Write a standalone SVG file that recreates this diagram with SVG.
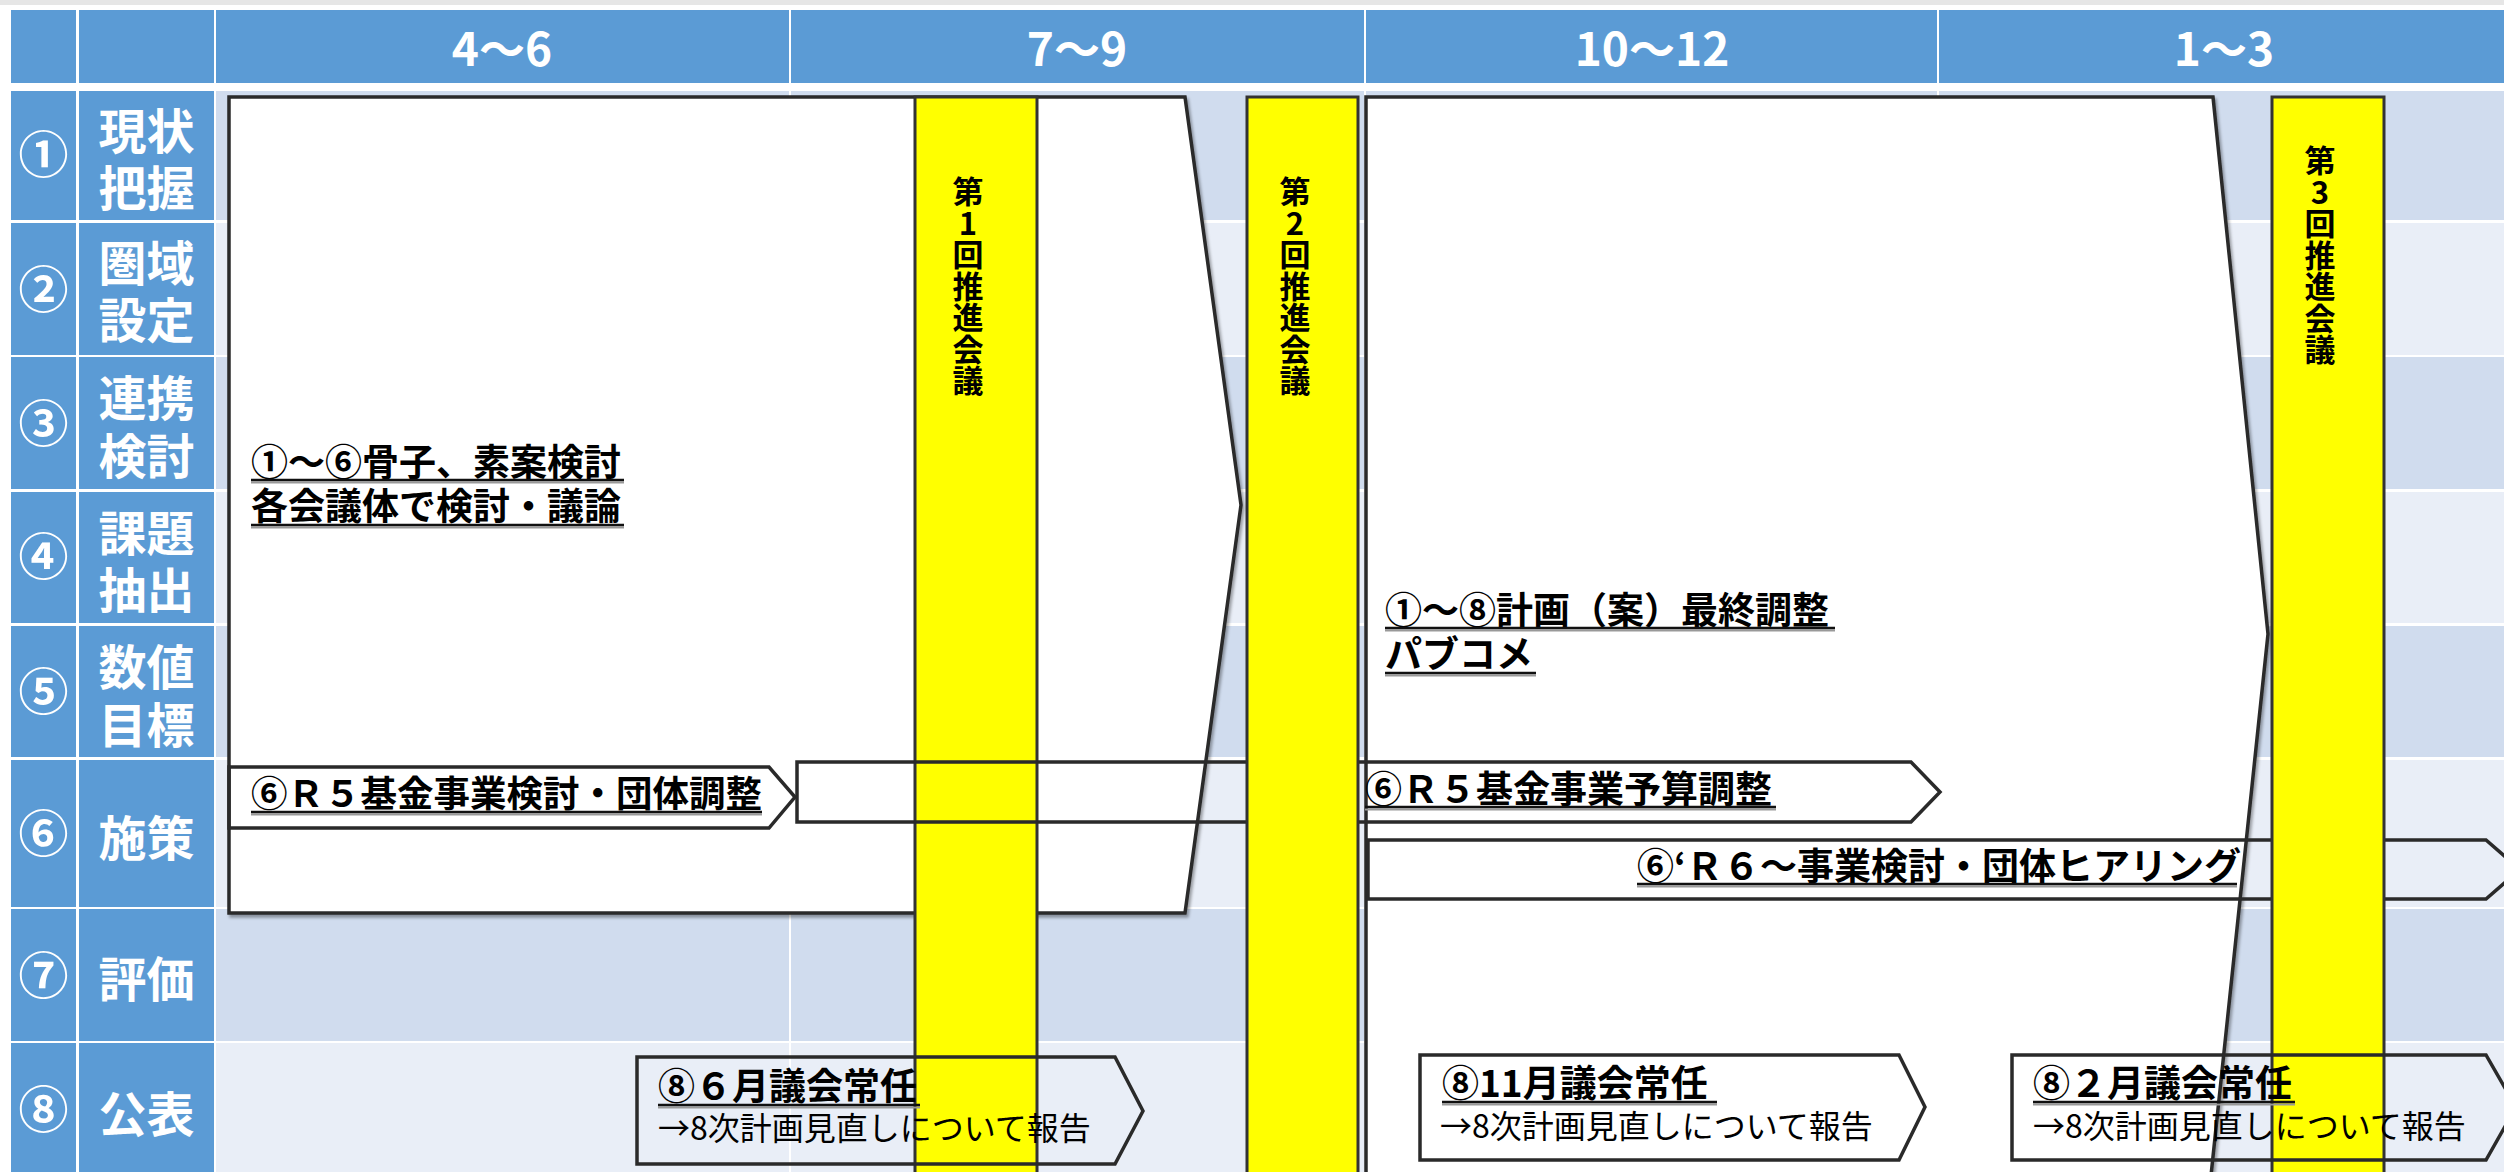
<svg xmlns="http://www.w3.org/2000/svg" width="2504" height="1172" viewBox="0 0 2504 1172">
<defs>
<filter id="sh" x="-5%" y="-5%" width="110%" height="110%">
<feDropShadow dx="2" dy="3" stdDeviation="1.5" flood-color="#000" flood-opacity="0.35"/>
</filter>
<style>
text{font-family:'Noto Sans CJK JP','Noto Sans',sans-serif}
.hd{fill:#5B9BD5}
.hdt{fill:#fff;font-weight:bold;font-size:46px;text-anchor:middle}
.lb{fill:#fff;font-weight:bold;font-size:48px;text-anchor:middle}
.cn{fill:#fff;font-weight:bold;font-size:50px;text-anchor:middle}
.rd{fill:#D0DCEE}
.rl{fill:#E9EEF7}
.sp{fill:none;stroke:#2a2a2a;stroke-width:3.5;stroke-linejoin:miter}
.big{fill:#fff;stroke:#2a2a2a;stroke-width:3.5}
.bar{fill:#FFFF00;stroke:#333;stroke-width:3}
.bt{fill:#000;font-weight:bold;font-size:31px;writing-mode:vertical-rl;text-orientation:upright;letter-spacing:0.5px}
.t{fill:#000;font-weight:bold;font-size:37px}
.t2{font-weight:normal;font-size:32px}
.ul{stroke:#111;stroke-width:2.5}
.us{stroke:#999;stroke-width:2}
</style>
</defs>
<rect x="0" y="0" width="2504" height="1172" fill="#fff"/>
<rect x="0" y="0" width="2504" height="5" fill="#e6e6e6"/>
<g id="header">
<rect class="hd" x="11" y="10" width="65" height="73"/>
<rect class="hd" x="79" y="10" width="135" height="73"/>
<rect class="hd" x="216" y="10" width="573" height="73"/>
<rect class="hd" x="791" y="10" width="573" height="73"/>
<rect class="hd" x="1366" y="10" width="571" height="73"/>
<rect class="hd" x="1939" y="10" width="565" height="73"/>
<text class="hdt" x="502" y="66">4～6</text>
<text class="hdt" x="1077" y="66">7～9</text>
<text class="hdt" x="1652" y="66">10～12</text>
<text class="hdt" x="2224" y="66">1～3</text>
</g>
<g id="rows">
<rect class="hd" x="11" y="91" width="65" height="129"/><rect class="hd" x="79" y="91" width="135" height="129"/>
<rect class="hd" x="11" y="223" width="65" height="132"/><rect class="hd" x="79" y="223" width="135" height="132"/>
<rect class="hd" x="11" y="357" width="65" height="132"/><rect class="hd" x="79" y="357" width="135" height="132"/>
<rect class="hd" x="11" y="492" width="65" height="131"/><rect class="hd" x="79" y="492" width="135" height="131"/>
<rect class="hd" x="11" y="626" width="65" height="131"/><rect class="hd" x="79" y="626" width="135" height="131"/>
<rect class="hd" x="11" y="760" width="65" height="147"/><rect class="hd" x="79" y="760" width="135" height="147"/>
<rect class="hd" x="11" y="909" width="65" height="132"/><rect class="hd" x="79" y="909" width="135" height="132"/>
<rect class="hd" x="11" y="1043" width="65" height="129"/><rect class="hd" x="79" y="1043" width="135" height="129"/>
<rect class="rd" x="216" y="91" width="2288" height="129"/>
<rect class="rl" x="216" y="223" width="2288" height="132"/>
<rect class="rd" x="216" y="357" width="2288" height="132"/>
<rect class="rl" x="216" y="492" width="2288" height="131"/>
<rect class="rd" x="216" y="626" width="2288" height="131"/>
<rect class="rl" x="216" y="760" width="2288" height="147"/>
<rect class="rd" x="216" y="909" width="2288" height="132"/>
<rect class="rl" x="216" y="1043" width="2288" height="129"/>
<g fill="#fff">
<rect x="789" y="91" width="2" height="1081"/>
<rect x="1364" y="91" width="2" height="1081"/>
<rect x="1937" y="91" width="2" height="1081"/>
</g>
<text class="cn" x="43.5" y="173">①</text>
<text class="lb"><tspan x="146.5" y="149">現状</tspan><tspan x="146.5" y="206">把握</tspan></text>
<text class="cn" x="43.5" y="308">②</text>
<text class="lb"><tspan x="146.5" y="281">圏域</tspan><tspan x="146.5" y="338">設定</tspan></text>
<text class="cn" x="43.5" y="442">③</text>
<text class="lb"><tspan x="146.5" y="416">連携</tspan><tspan x="146.5" y="474">検討</tspan></text>
<text class="cn" x="43.5" y="575">④</text>
<text class="lb"><tspan x="146.5" y="551">課題</tspan><tspan x="146.5" y="608">抽出</tspan></text>
<text class="cn" x="43.5" y="710">⑤</text>
<text class="lb"><tspan x="146.5" y="685">数値</tspan><tspan x="146.5" y="743">目標</tspan></text>
<text class="cn" x="43.5" y="852">⑥</text>
<text class="lb" x="146.5" y="856">施策</text>
<text class="cn" x="43.5" y="994">⑦</text>
<text class="lb" x="146.5" y="997">評価</text>
<text class="cn" x="43.5" y="1128">⑧</text>
<text class="lb" x="146.5" y="1132">公表</text>
</g>
<g id="phase1">
<path class="big" filter="url(#sh)" d="M229,97 L1185,97 L1241,505 L1185,913 L229,913 Z"/>
<text class="t"><tspan x="251" y="476">①～⑥骨子、素案検討</tspan><tspan x="251" y="520">各会議体で検討・議論</tspan></text>
<line class="us" x1="251" y1="482.5" x2="624" y2="482.5"/><line class="ul" x1="251" y1="480" x2="624" y2="480"/>
<line class="us" x1="251" y1="527.5" x2="624" y2="527.5"/><line class="ul" x1="251" y1="525" x2="624" y2="525"/>
</g>
<g id="phase2">
<path class="big" filter="url(#sh)" d="M1366,97 L2213,97 L2268,634 L2210,1185 L1366,1185 Z"/>
<text class="t"><tspan x="1385" y="624">①～⑧計画（案）最終調整</tspan><tspan x="1385" y="668">パブコメ</tspan></text>
<line class="us" x1="1385" y1="630.5" x2="1835" y2="630.5"/><line class="ul" x1="1385" y1="628" x2="1835" y2="628"/>
<line class="us" x1="1385" y1="675.5" x2="1536" y2="675.5"/><line class="ul" x1="1385" y1="673" x2="1536" y2="673"/>
</g>
<g id="meeting1">
<rect class="bar" x="915" y="97" width="122" height="1090"/>
<text class="bt" x="968" y="176">第1回推進会議</text>
</g>
<g id="connectors">
<g id="task-r5-kento">
<path class="sp" d="M229,767 L769,767 L795,797 L769,828 L229,828 Z"/>
<text class="t" x="251" y="807" style="font-size:36.5px">⑥Ｒ５基金事業検討・団体調整</text>
<line class="us" x1="251" y1="814.5" x2="762" y2="814.5"/><line class="ul" x1="251" y1="812" x2="762" y2="812"/>
</g>
<g id="task-r5-yosan">
<path class="sp" d="M797,762 L1911,762 L1940,792 L1911,822 L797,822 Z"/>
<text class="t" x="1365" y="803">⑥Ｒ５基金事業予算調整</text>
<line class="us" x1="1365" y1="809.5" x2="1776" y2="809.5"/><line class="ul" x1="1365" y1="807" x2="1776" y2="807"/>
</g>
</g>
<g id="meeting2">
<rect class="bar" x="1247" y="97" width="111" height="1090"/>
<text class="bt" x="1295" y="176">第2回推進会議</text>
</g>
<g id="task-r6">
<path class="sp" d="M1368,840 L2486,840 L2520,869.5 L2486,899 L1368,899 Z"/>
<text class="t" x="1637" y="880">⑥‘Ｒ６～事業検討・団体ヒアリング</text>
<line class="us" x1="1637" y1="886.5" x2="2237" y2="886.5"/><line class="ul" x1="1637" y1="884" x2="2237" y2="884"/>
</g>
<g id="meeting3">
<rect class="bar" x="2272" y="97" width="112" height="1090"/>
<text class="bt" x="2320" y="145">第3回推進会議</text>
</g>
<g id="report-jun">
<path class="sp" d="M637,1057 L1115,1057 L1143,1111 L1115,1164 L637,1164 Z"/>
<text class="t"><tspan x="658" y="1100">⑧６月議会常任</tspan><tspan class="t2" x="658" y="1140">→8次計画見直しについて報告</tspan></text>
<line class="us" x1="658" y1="1107.5" x2="920" y2="1107.5"/><line class="ul" x1="658" y1="1105" x2="920" y2="1105"/>
</g>
<g id="report-nov">
<path class="sp" d="M1420,1055 L1899,1055 L1925,1107 L1899,1160 L1420,1160 Z"/>
<text class="t"><tspan x="1442" y="1097">⑧11月議会常任</tspan><tspan class="t2" x="1440" y="1138">→8次計画見直しについて報告</tspan></text>
<line class="us" x1="1442" y1="1104.5" x2="1717" y2="1104.5"/><line class="ul" x1="1442" y1="1102" x2="1717" y2="1102"/>
</g>
<g id="report-feb">
<path class="sp" d="M2012,1055 L2486,1055 L2516,1107 L2486,1160 L2012,1160 Z"/>
<text class="t"><tspan x="2033" y="1097">⑧２月議会常任</tspan><tspan class="t2" x="2033" y="1138">→8次計画見直しについて報告</tspan></text>
<line class="us" x1="2033" y1="1104.5" x2="2295" y2="1104.5"/><line class="ul" x1="2033" y1="1102" x2="2295" y2="1102"/>
</g>
</svg>
